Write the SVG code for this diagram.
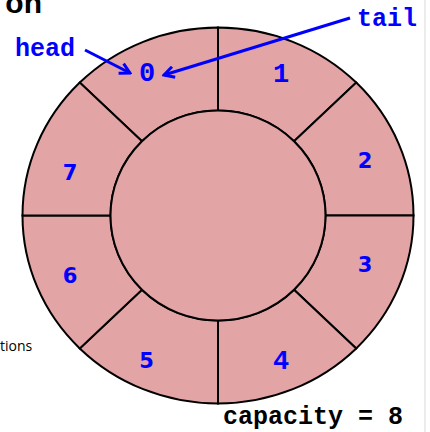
<svg xmlns="http://www.w3.org/2000/svg" width="430" height="432" viewBox="0 0 430 432">
<style>
.seg{fill:#E2A4A4;stroke:#000;stroke-width:2;stroke-linejoin:miter}
.mono{font-family:"Liberation Mono","Courier New",monospace;font-weight:bold;fill:#0000FF}
.sans{font-family:"DejaVu Sans",Verdana,sans-serif;font-weight:bold;fill:#0000FF}
.num{font-size:21px;text-anchor:middle}
.mnum{font-size:27px;text-anchor:middle}
.lbl{font-size:25px}
.arrow{stroke:#0000FF;stroke-width:3;fill:none}
</style>
<defs>
<marker id="ah" viewBox="0 0 14 14" refX="12" refY="7" markerWidth="14" markerHeight="14" orient="auto" markerUnits="userSpaceOnUse">
<path d="M2,1.5 L12,7 L2,12.5" fill="none" stroke="#0000FF" stroke-width="3"/>
</marker>
</defs>
<rect width="430" height="432" fill="#fff"/>
<line x1="425" y1="0" x2="425" y2="432" stroke="#d9d9d9" stroke-width="1"/>
<text x="42" y="13" font-family="'Liberation Sans',Arial,sans-serif" font-weight="bold" font-size="30" text-anchor="end" fill="#000">on</text>
<text x="0" y="351" font-family="'Open Sans',sans-serif" font-size="14" fill="#000">tions</text>
<g id="seg0"><path class="seg" d="M79.76,82.56 A195.5,188 0 0 1 218,27.5 L218,110.5 A107.5,105 0 0 0 141.99,141.25 Z"/><text class="mono mnum" x="147" y="81">0</text></g>
<g id="seg1"><path class="seg" d="M218,27.5 A195.5,188 0 0 1 356.24,82.56 L294.01,141.25 A107.5,105 0 0 0 218,110.5 Z"/><text class="mono mnum" x="281" y="81.5">1</text></g>
<g id="seg2"><path class="seg" d="M356.24,82.56 A195.5,188 0 0 1 413.5,215.5 L325.5,215.5 A107.5,105 0 0 0 294.01,141.25 Z"/><text class="sans num" x="365" y="168">2</text></g>
<g id="seg3"><path class="seg" d="M413.5,215.5 A195.5,188 0 0 1 356.24,348.44 L294.01,289.75 A107.5,105 0 0 0 325.5,215.5 Z"/><text class="sans num" x="365" y="272">3</text></g>
<g id="seg4"><path class="seg" d="M356.24,348.44 A195.5,188 0 0 1 218,403.5 L218,320.5 A107.5,105 0 0 0 294.01,289.75 Z"/><text class="mono mnum" x="281" y="368.5">4</text></g>
<g id="seg5"><path class="seg" d="M218,403.5 A195.5,188 0 0 1 79.76,348.44 L141.99,289.75 A107.5,105 0 0 0 218,320.5 Z"/><text class="sans num" x="146.5" y="368">5</text></g>
<g id="seg6"><path class="seg" d="M79.76,348.44 A195.5,188 0 0 1 22.5,215.5 L110.5,215.5 A107.5,105 0 0 0 141.99,289.75 Z"/><text class="sans num" x="70" y="282.5">6</text></g>
<g id="seg7"><path class="seg" d="M22.5,215.5 A195.5,188 0 0 1 79.76,82.56 L141.99,141.25 A107.5,105 0 0 0 110.5,215.5 Z"/><text class="sans num" x="70" y="180">7</text></g>
<g id="hub"><ellipse class="seg" cx="218" cy="215.5" rx="107.5" ry="105"/></g>
<g id="head"><text class="mono lbl" x="15" y="56">head</text></g>
<g id="tail"><text class="mono lbl" x="357" y="26">tail</text></g>
<g id="capacity"><text class="mono lbl" style="fill:#000" x="223" y="424">capacity = 8</text></g>
<g id="connectors">
<line class="arrow" x1="85" y1="50" x2="130" y2="73" marker-end="url(#ah)"/>
<line class="arrow" x1="350" y1="18" x2="164" y2="75" marker-end="url(#ah)"/>
</g>
</svg>
